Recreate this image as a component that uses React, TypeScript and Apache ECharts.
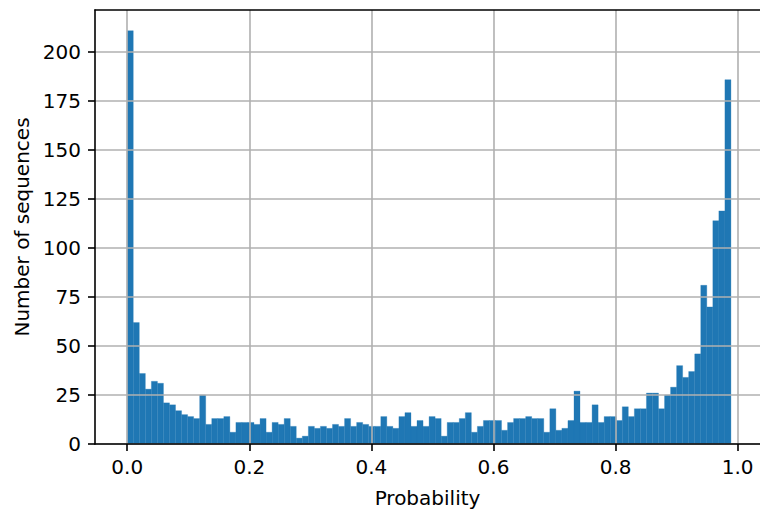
import React, { useEffect, useRef } from 'react';
import * as echarts from 'echarts';

const binStart = 0.0;
const binEnd = 0.989;
const counts = [
  211, 62, 36, 28, 32, 31, 21, 20, 17, 15,
  14, 13, 25, 10, 13, 13, 14, 6, 11, 11,
  11, 10, 13, 6, 11, 10, 13, 9, 3, 4,
  9, 8, 9, 8, 10, 9, 13, 9, 11, 10,
  9, 9, 14, 9, 8, 14, 16, 9, 12, 9,
  14, 13, 4, 11, 11, 13, 16, 6, 9, 12,
  12, 12, 7, 11, 13, 13, 14, 13, 13, 6,
  18, 7, 8, 12, 27, 11, 11, 20, 11, 14,
  14, 12, 19, 14, 18, 18, 26, 26, 18, 25,
  29, 40, 34, 37, 46, 81, 70, 114, 119, 186,
];
const xTicks = [0, 0.2, 0.4, 0.6, 0.8, 1.0];
const yTicks = [0, 25, 50, 75, 100, 125, 150, 175, 200];
const xLabel = 'Probability';
const yLabel = 'Number of sequences';

export default function App() {
  const ref = useRef<HTMLDivElement>(null);
  useEffect(() => {
    const chart = echarts.init(ref.current!, null, { renderer: 'svg' });
    const w = (binEnd - binStart) / counts.length;
    const data = counts.map((c, i) => [binStart + i * w, binStart + (i + 1) * w, c]);
    const font = 'DejaVu Sans';
    const spine = { show: true, lineStyle: { color: '#000', width: 1.6 } };
    chart.setOption({
      animation: false,
      grid: { left: 95, top: 10, width: 670, height: 437, show: false },
      xAxis: [
        {
          type: 'value',
          min: -0.0528,
          max: 1.0366,
          z: 5,
          axisLine: { ...spine, onZero: false },
          axisTick: { show: true, customValues: xTicks, length: 7, lineStyle: { color: '#000', width: 1.6 } },
          axisLabel: {
            customValues: xTicks,
            formatter: (v: number) => v.toFixed(1),
            fontSize: 20,
            color: '#000',
            fontFamily: font,
            margin: 13,
          },
          splitLine: { show: true, lineStyle: { color: '#b0b0b0', width: 1.6 } },
          name: xLabel,
          nameLocation: 'middle',
          nameGap: 44,
          nameTextStyle: { fontSize: 20, color: '#000', fontFamily: font },
        },
        {
          type: 'value',
          position: 'top',
          min: -0.0528,
          max: 1.0366,
          z: 5,
          axisLine: { ...spine, onZero: false },
          axisTick: { show: false },
          axisLabel: { show: false },
          splitLine: { show: false },
        },
      ],
      yAxis: {
        type: 'value',
        min: 0,
        max: 221.55,
        z: 5,
        axisLine: { ...spine, onZero: false },
        axisTick: { show: true, customValues: yTicks, length: 7, lineStyle: { color: '#000', width: 1.6 } },
        axisLabel: {
          customValues: yTicks,
          formatter: (v: number) => String(Math.round(v)),
          fontSize: 20,
          color: '#000',
          fontFamily: font,
          margin: 14,
        },
        splitLine: { show: true, lineStyle: { color: '#b0b0b0', width: 1.6 } },
        name: yLabel,
        nameLocation: 'middle',
        nameGap: 60,
        nameRotate: 90,
        nameTextStyle: { fontSize: 20, color: '#000', fontFamily: font },
      },
      series: [
        {
          type: 'custom',
          xAxisIndex: 0,
          yAxisIndex: 0,
          z: 2,
          data,
          renderItem: (params: any, api: any) => {
            const x0 = api.value(0);
            const x1 = api.value(1);
            const c = api.value(2);
            const p0 = api.coord([x0, 0]);
            const p1 = api.coord([x1, c]);
            return {
              type: 'rect',
              shape: { x: p0[0], y: p1[1], width: p1[0] - p0[0], height: p0[1] - p1[1] },
              style: { fill: '#1f77b4', stroke: '#1f77b4', lineWidth: 0.3 },
            };
          },
        },
      ],
    });
    return () => chart.dispose();
  }, []);
  return (
    <div
      ref={ref}
      style={{ position: 'absolute', left: 0, top: 0, width: 760, height: 513, background: '#fff' }}
    />
  );
}
